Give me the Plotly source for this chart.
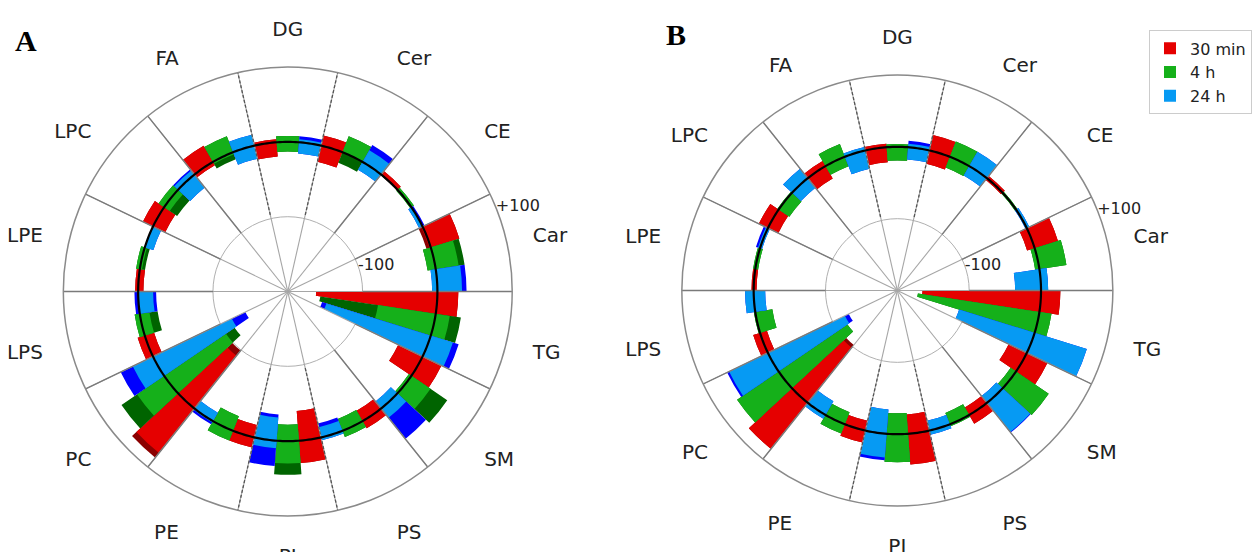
import numpy as np
import plotly.graph_objects as go

# ---------------- data ----------------
CATEGORIES = ["DG", "Cer", "CE", "Car", "TG", "SM", "PS", "PI", "PE", "PC", "LPS", "LPE", "LPC", "FA"]
SERIES = ["30 min", "4 h", "24 h"]
RADIAL_TICKS = [-100, 100]
RADIAL_TICK_TEXT = ["-100", "+100"]

# Panel A  (UP = outward extent, DOWN = inward extent, *_SD = darker extension)
A_30MIN_UP = [4, 14, 6, 40, 28, 28, 11, 30, 14, 76, 10, 4, 15, 25]
A_30MIN_UP_SD = [0, 0, 0, 0, 0, 0, 0, 0, 0, 8, 0, 0, 0, 0]
A_30MIN_DOWN = [-19, -22, -1, -2, -162, -36, -16, -40, -17, -90, -13, -7, -18, -5]
A_30MIN_DOWN_SD = [0, 0, 0, 4, 0, 0, 0, 0, 0, 9, 0, 0, 0, 0]

A_4H_UP = [8, 23, 4, 31, 19, 31, 9, 30, 14, 44, 7, 5, 9, 23]
A_4H_UP_SD = [0, 0, 0, 8, 15, 27, 0, 15, 0, 25, 0, 0, 0, 0]
A_4H_DOWN = [-13, 0, -2, -11, -78, -4, -17, -22, -21, -100, -13, -3, -9, -3]
A_4H_DOWN_SD = [0, 15, 0, 0, 78, 0, 0, 0, 0, 14, 11, 4, 12, 7]

A_24H_UP = [4, 18, 0, 33, 31, 16, 4, 10, 2, 30, 0, 0, 7, 15]
A_24H_UP_SD = [4, 8, 3, 6, 8, 36, 0, 24, 3, 18, 5, 0, 2, 0]
A_24H_DOWN = [-15, -12, -5, -7, -146, -12, -14, -31, -13, -117, -20, -12, -22, -18]
A_24H_DOWN_SD = [0, 0, 0, 0, 6, 0, 5, 4, 0, 20, 4, 0, 0, 0]

# Panel B
B_30MIN_UP = [5, 22, 4, 34, 27, 32, 14, 43, 17, 82, 10, 3, 14, 8]
B_30MIN_UP_SD = [0, 0, 0, 0, 0, 0, 0, 0, 0, 0, 0, 0, 0, 0]
B_30MIN_DOWN = [-21, -19, -3, -11, -165, -28, -12, -27, -14, -98, -10, -4, -16, -20]
B_30MIN_DOWN_SD = [0, 0, 0, 0, 0, 0, 0, 0, 0, 5, 0, 0, 0, 0]

B_4H_UP = [4, 23, 2, 38, 17, 55, 3, 39, 14, 70, 2, 3, 2, 19]
B_4H_UP_SD = [0, 0, 0, 0, 0, 0, 0, 0, 0, 0, 0, 0, 0, 0]
B_4H_DOWN = [-19, -16, -2, -6, -171, -9, -17, -29, -18, -116, -24, -4, -18, -14]
B_4H_DOWN_SD = [0, 0, 0, 0, 0, 0, 0, 0, 0, 0, 0, 0, 0, 0]

B_24H_UP = [5, 23, 4, 10, 76, 52, 6, 33, 6, 60, 12, 3, 17, 5]
B_24H_UP_SD = [4, 0, 0, 0, 0, 1, 0, 4, 0, 3, 0, 3, 0, 0]
B_24H_DOWN = [-17, -15, -2, -36, -110, -12, -14, -34, -22, -119, -16, -3, -17, -26]
B_24H_DOWN_SD = [0, 0, 0, 0, 0, 0, 0, 0, 0, 6, 0, 0, 0, 0]

# ---------------- styling ----------------
LIGHT = ["#e50000", "#15b01a", "#069af3"]
DARK = ["#8b0000", "#006400", "#0000ff"]
RMIN, RMAX = -200, 100

PANELS = {
    "polar": [
        (A_30MIN_UP, A_30MIN_UP_SD, A_30MIN_DOWN, A_30MIN_DOWN_SD),
        (A_4H_UP, A_4H_UP_SD, A_4H_DOWN, A_4H_DOWN_SD),
        (A_24H_UP, A_24H_UP_SD, A_24H_DOWN, A_24H_DOWN_SD),
    ],
    "polar2": [
        (B_30MIN_UP, B_30MIN_UP_SD, B_30MIN_DOWN, B_30MIN_DOWN_SD),
        (B_4H_UP, B_4H_UP_SD, B_4H_DOWN, B_4H_DOWN_SD),
        (B_24H_UP, B_24H_UP_SD, B_24H_DOWN, B_24H_DOWN_SD),
    ],
}

n = len(CATEGORIES)
W = 360.0 / n
centers = [i * W for i in range(n)]
DASHED_BOUNDS = [0, 6, 7, 13]

fig = go.Figure()


def boundary_trace(subplot, ks, r0, r1, color, width, dash="solid"):
    th, rr = [], []
    for k in ks:
        t = k * W + W / 2
        th += [t, t, None]
        rr += [r0, r1, None]
    return go.Scatterpolar(theta=th, r=rr, mode="lines", subplot=subplot,
                           line=dict(color=color, width=width, dash=dash),
                           showlegend=False, hoverinfo="skip")


for subplot, series in PANELS.items():
    # sector boundary lines
    solid = [k for k in range(n) if k not in DASHED_BOUNDS]
    fig.add_trace(boundary_trace(subplot, range(n), RMIN, RMAX, "#a6a6a6", 1.1))
    fig.add_trace(boundary_trace(subplot, solid, -100, RMAX, "#7a7a7a", 1.3))
    fig.add_trace(boundary_trace(subplot, DASHED_BOUNDS, -95, RMAX, "#555555", 1.3, "3px,2px"))

    for j, (up, up_sd, down, down_sd) in enumerate(series):
        thetas = [c + (j - 1) * W / 3 for c in centers]
        lo_dark = [d - e for d, e in zip(down, down_sd)]
        hi_dark = [u + e for u, e in zip(up, up_sd)]
        fig.add_trace(go.Barpolar(
            theta=thetas, base=lo_dark, r=[h - l for h, l in zip(hi_dark, lo_dark)],
            width=W / 3, marker=dict(color=DARK[j], line=dict(width=0)),
            subplot=subplot, showlegend=False, hoverinfo="skip"))
        fig.add_trace(go.Barpolar(
            theta=thetas, base=down, r=[u - d for u, d in zip(up, down)],
            width=W / 3, marker=dict(color=LIGHT[j], line=dict(width=0)),
            subplot=subplot, name=SERIES[j], legendgroup=SERIES[j],
            showlegend=(subplot == "polar")))

    # zero baseline circle
    circ = np.linspace(0, 360, 361)
    fig.add_trace(go.Scatterpolar(theta=circ, r=np.zeros_like(circ), mode="lines",
                                  line=dict(color="black", width=2.2), subplot=subplot,
                                  showlegend=False, hoverinfo="skip"))
    # radial tick labels
    fig.add_trace(go.Scatterpolar(theta=[70, 68], r=RADIAL_TICKS, mode="text",
                                  text=RADIAL_TICK_TEXT, textposition="middle right",
                                  textfont=dict(family="DejaVu Sans", size=16, color="#222"),
                                  cliponaxis=False, subplot=subplot,
                                  showlegend=False, hoverinfo="skip"))


def polar_layout(xd, yd):
    return dict(
        domain=dict(x=xd, y=yd),
        bgcolor="white",
        barmode="overlay",
        radialaxis=dict(range=[RMIN, RMAX], tickvals=[-100], showticklabels=False,
                        ticks="", showline=False, gridcolor="#b0b0b0", gridwidth=1.2),
        angularaxis=dict(direction="clockwise", rotation=90, tickmode="array",
                         tickvals=centers, ticktext=CATEGORIES, showgrid=False,
                         showline=True, linecolor="#8a8a8a", linewidth=1.5,
                         ticks="outside", ticklen=22, tickcolor="rgba(0,0,0,0)",
                         tickfont=dict(family="DejaVu Sans", size=20, color="#222")),
    )


fig.update_layout(
    width=1252, height=552,
    margin=dict(l=0, r=0, t=0, b=0),
    paper_bgcolor="white",
    polar=polar_layout([0.0507, 0.4101], [0.0643, 0.8795]),
    polar2=polar_layout([0.5459, 0.8910], [0.0824, 0.8650]),
    legend=dict(x=0.9201, y=0.945, xanchor="left", yanchor="top",
                bordercolor="#cccccc", borderwidth=1, bgcolor="white",
                font=dict(family="DejaVu Sans", size=16, color="#222"),
                itemwidth=30, tracegroupgap=0),
    annotations=[
        dict(text="<b>A</b>", x=0.0212, y=0.9275, xref="paper", yref="paper",
             showarrow=False, xanchor="center", yanchor="middle",
             font=dict(family="Liberation Serif", size=30, color="black")),
        dict(text="<b>B</b>", x=0.5415, y=0.9366, xref="paper", yref="paper",
             showarrow=False, xanchor="center", yanchor="middle",
             font=dict(family="Liberation Serif", size=30, color="black")),
    ],
)

fig.write_html("out.html")
